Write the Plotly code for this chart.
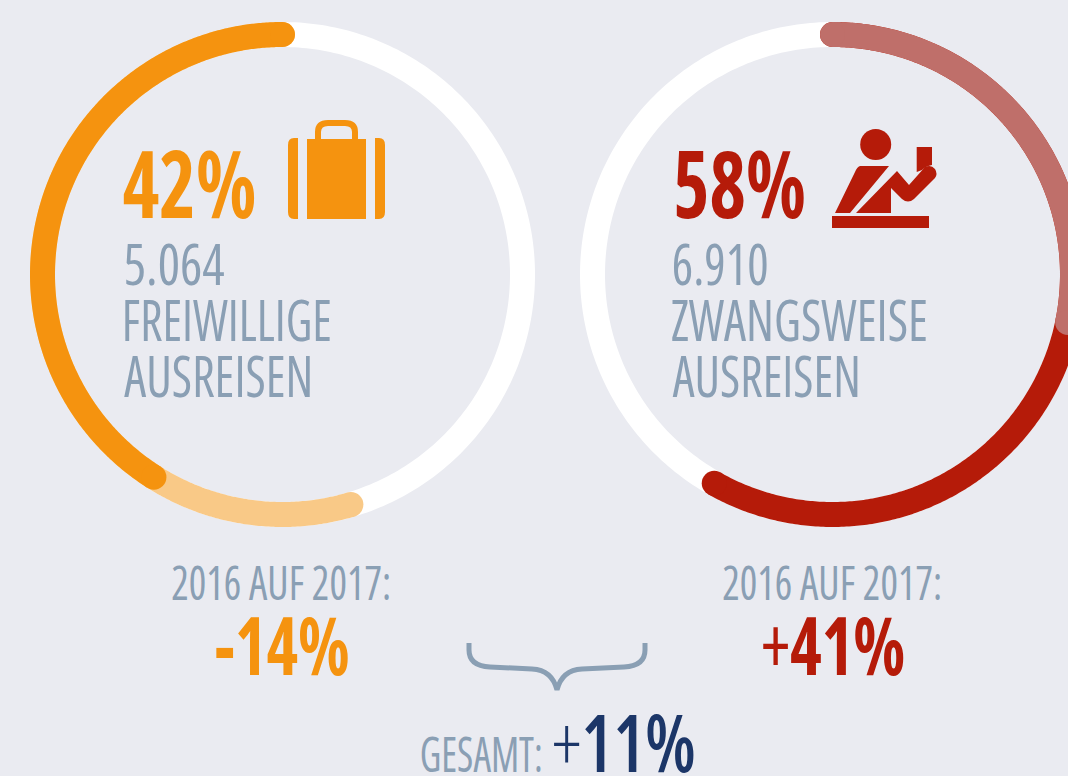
import json
import numpy as np
import plotly.graph_objects as go

# ---- data ----
ring_full = 100
left_current = 41.0     # arc drawn for 2017
left_previous = 54.6    # arc drawn for 2016
right_current = 58.2
right_previous = 28.2
left_share = "42%"
right_share = "58%"
left_count = "5.064"
right_count = "6.910"
left_change = "-14%"
right_change = "+41%"
total_change = "+11%"
left_center = (282.5, 274.5)
right_center = (832.5, 274.5)
radius = 240
thickness = 25

BG = "#EAEBF1"
ORANGE = "#F5930F"
ORANGE_L = "#F9C987"
RED = "#B51B09"
RED_L = "#BF6F6A"
GREY = "#8A9FB4"
NAVY = "#1C3668"
FONT = "Open Sans"

def arc(center, share, sign):
    t = np.radians(np.linspace(0, share * 3.6, 360))
    return center[0] + sign * radius * np.sin(t), center[1] - radius * np.cos(t)

def ring(fig, center, share, sign, color, cap=True):
    x, y = arc(center, share, sign)
    sizes = [0] * len(x)
    if cap:
        sizes[0] = sizes[-1] = thickness
    fig.add_trace(go.Scatter(x=x, y=y, mode="lines+markers", hoverinfo="skip",
                             line=dict(color=color, width=thickness, simplify=False),
                             marker=dict(color=color, size=sizes, opacity=1, line=dict(width=0))))

fig = go.Figure()
ring(fig, left_center, ring_full, 1, "#FFFFFF", cap=False)
ring(fig, right_center, ring_full, 1, "#FFFFFF", cap=False)
ring(fig, left_center, left_previous, -1, ORANGE_L)
ring(fig, left_center, left_current, -1, ORANGE)
ring(fig, right_center, right_current, 1, RED)
ring(fig, right_center, right_previous, 1, RED_L)

widths = []
def txt(x0, x1, cap_top, cap_bottom, s, color, weight=400):
    """Text fitted between x0 and x1, with capitals from cap_top to cap_bottom."""
    size = (cap_bottom - cap_top) / 0.714
    y = (cap_top + cap_bottom) / 2 - 0.031 * size
    widths.append(x1 - x0)
    fig.add_annotation(x=(x0 + x1) / 2, y=y, text=s, showarrow=False, xanchor="center", yanchor="middle",
                       borderpad=0, font=dict(family=FONT, size=size, color=color, weight=weight))

txt(122, 256, 152, 218, f"<b>{left_share}</b>", ORANGE)
txt(123, 224, 244, 285, left_count, GREY)
txt(122, 332, 300, 341, "FREIWILLIGE", GREY)
txt(124, 313, 356, 397, "AUSREISEN", GREY)

txt(673, 806, 152, 218, f"<b>{right_share}</b>", RED)
txt(671, 768, 244, 285, right_count, GREY)
txt(671, 928, 300, 341, "ZWANGSWEISE", GREY)
txt(673, 861, 356, 397, "AUSREISEN", GREY)

txt(171, 391, 566, 600, "2016 AUF 2017:", GREY)
txt(722, 942, 566, 600, "2016 AUF 2017:", GREY)
txt(214, 349, 617, 675, f"<b>{left_change}</b>", ORANGE)
txt(761, 905, 617, 675, f"+<b>{right_change[1:]}</b>", RED)
txt(420, 543, 737, 772, "GESAMT:", GREY)
txt(552, 696, 715, 772, f'<span style="font-weight:300">{total_change[0]}</span>{total_change[1:]}', NAVY, 600)

def shape(path, color=None, line=None, lw=0):
    fig.add_shape(type="path", path=path, fillcolor=color if color else "rgba(0,0,0,0)",
                  line=dict(color=line if line else "rgba(0,0,0,0)", width=lw), layer="above")

# suitcase
shape("M298,138 L298,219 L294,219 Q288,219 288,212 L288,145 Q288,138 294,138 Z", ORANGE)
shape("M375,138 L375,219 L379,219 Q385,219 385,212 L385,145 Q385,138 379,138 Z", ORANGE)
shape("M307,139 L366,139 L366,219 L307,219 Z", ORANGE)
shape("M318,139 L318,132 Q318,123 328,123 L345,123 Q355,123 355,132 L355,139", None, ORANGE, 6)

# officer
fig.add_shape(type="circle", x0=860.2, y0=129, x1=891.2, y1=160, fillcolor=RED, line=dict(width=0), layer="above")
shape("M916.7,147 L932,147 L932,165 Q926,166 922,170 L916.7,172 Z", RED)
shape("M832,216 L929,216 L929,228 L832,228 Z", RED)
shape("M860,166 L889,166 L850,213 L835,213 L855,172 Q857,167 860,166 Z", RED)
shape("M856,213 L897,171 L909,185 L925,167 Q931,164 935,169 Q938,174 935,178 L914,199 Q908,204 902,199 L891,188 L891,213 Z", RED)

# brace
shape("M469,643 L469,650 Q469,666 490,667 L532,669 Q552,670 557,690 Q562,670 582,669 L624,667 Q645,666 645,650 L645,643",
      None, GREY, 5)

fig.update_layout(width=1068, height=776, margin=dict(l=0, r=0, t=0, b=0),
                  paper_bgcolor=BG, plot_bgcolor=BG, showlegend=False,
                  xaxis=dict(range=[0, 1068], visible=False, fixedrange=True),
                  yaxis=dict(range=[776, 0], visible=False, fixedrange=True))

post = """
document.body.style.margin = '0';
document.documentElement.style.overflow = 'hidden';
var widths = %s;
document.querySelectorAll('.annotation-text').forEach(function (el, i) {
    el.style.fontStretch = '75%%';
    el.setAttribute('textLength', widths[i]);
    el.setAttribute('lengthAdjust', 'spacingAndGlyphs');
});
""" % json.dumps(widths)
fig.write_html("out.html", config=dict(displayModeBar=False), post_script=post)
